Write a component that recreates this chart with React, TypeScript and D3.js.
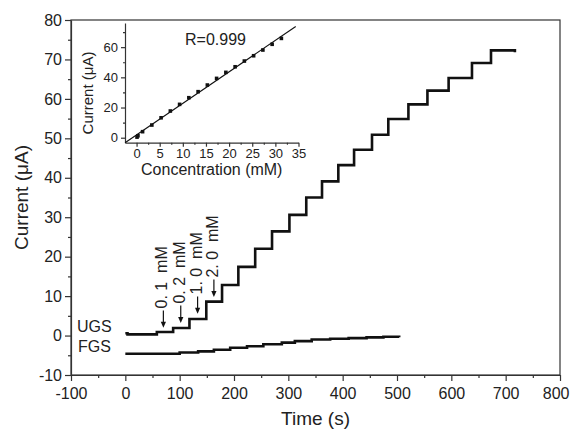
import * as d3 from "d3";
import React, { useRef, useEffect } from "react";

const W = 571;
const H = 433;
const FONT = "'Liberation Sans', Arial, sans-serif";

// main axes
const xTicks = [-100, 0, 100, 200, 300, 400, 500, 600, 700, 800];
const yTicks = [-10, 0, 10, 20, 30, 40, 50, 60, 70, 80];

// UGS amperometric response (step start time in s, current in uA)
const ugsTimes = [0, 4, 58, 88, 118, 149, 178, 208, 239, 270, 302, 333, 362, 392, 421, 454, 484, 521, 556, 595, 638, 673, 717];
const ugsCurrents = [0.6, 0.3, 0.9, 1.9, 4.2, 8.6, 12.8, 17.4, 22.0, 26.4, 30.6, 35.0, 39.1, 43.2, 47.1, 50.9, 54.9, 58.6, 62.1, 65.3, 69.1, 72.3, 71.8];

// FGS response
const fgsTimes = [0, 100, 134, 163, 193, 224, 254, 288, 312, 343, 377, 411, 444, 475, 504];
const fgsCurrents = [-4.6, -4.3, -4.0, -3.6, -3.1, -2.7, -2.2, -1.8, -1.4, -1.0, -0.8, -0.65, -0.45, -0.3, -0.4];

// injection arrows
const arrowLabels = ["0. 1  mM", "0. 2  mM", "1. 0  mM", "2. 0  mM"];
const arrowTimes = [70, 102, 133, 163];
const arrowTips = [1.95, 3.2, 5.5, 9.8];

// inset calibration
const insetXTicks = [0, 5, 10, 15, 20, 25, 30, 35];
const insetYTicks = [0, 20, 40, 60];
const concentrations = [0.1, 0.3, 1.3, 3.3, 5.3, 7.3, 9.3, 11.3, 13.3, 15.3, 17.3, 19.3, 21.3, 23.3, 25.3, 27.3, 29.3, 31.3];
const responses = [0.4, 1.3, 4.0, 8.4, 13.2, 17.7, 22.1, 26.5, 30.5, 34.9, 39.3, 43.3, 47.0, 50.8, 54.3, 58.1, 61.9, 65.8];

const plain = (d) => String(d);

export default function App() {
  const ref = useRef<SVGSVGElement>(null);

  useEffect(() => {
    const svg = d3.select(ref.current);
    svg.selectAll("*").remove();

    const x = d3.scaleLinear().domain([-100, 800]).range([71, 560]);
    const y = d3.scaleLinear().domain([-10, 80]).range([375, 20]);

    const styleAxis = (g, size) => {
      g.selectAll("path,line").attr("stroke", "#333").attr("stroke-width", 1.2);
      g.selectAll("text").attr("fill", "#222").style("font-size", size + "px").style("font-family", FONT);
    };

    // frame
    svg
      .append("rect")
      .attr("x", x(-100))
      .attr("y", y(80))
      .attr("width", x(800) - x(-100))
      .attr("height", y(-10) - y(80))
      .attr("fill", "none")
      .attr("stroke", "#333")
      .attr("stroke-width", 1.2);

    const gx = svg
      .append("g")
      .attr("transform", `translate(0, ${y(-10)})`)
      .call(d3.axisBottom(x).tickValues(xTicks).tickFormat(plain).tickSize(6).tickSizeOuter(0).tickPadding(7));
    styleAxis(gx, 16);
    // keep the last label inside the picture
    gx.selectAll(".tick text")
      .filter((d) => d === 800)
      .attr("text-anchor", "end")
      .attr("x", 9);
    const gxm = svg
      .append("g")
      .attr("transform", `translate(0, ${y(-10)})`)
      .call(d3.axisBottom(x).tickValues(d3.range(-50, 800, 100)).tickSize(3).tickFormat(() => ""));
    gxm.select(".domain").remove();
    styleAxis(gxm, 16);

    const gy = svg
      .append("g")
      .attr("transform", `translate(${x(-100)}, 0)`)
      .call(d3.axisLeft(y).tickValues(yTicks).tickFormat(plain).tickSize(6).tickSizeOuter(0).tickPadding(3));
    styleAxis(gy, 16);
    const gym = svg
      .append("g")
      .attr("transform", `translate(${x(-100)}, 0)`)
      .call(d3.axisLeft(y).tickValues(d3.range(-5, 80, 10)).tickSize(3).tickFormat(() => ""));
    gym.select(".domain").remove();
    styleAxis(gym, 16);

    svg
      .append("text")
      .attr("x", (x(-100) + x(800)) / 2)
      .attr("y", 425)
      .attr("text-anchor", "middle")
      .style("font-size", "19px")
      .style("font-family", FONT)
      .attr("fill", "#222")
      .text("Time (s)");
    svg
      .append("text")
      .attr("transform", `translate(28, ${(y(-10) + y(80)) / 2}) rotate(-90)`)
      .attr("text-anchor", "middle")
      .style("font-size", "19px")
      .style("font-family", FONT)
      .attr("fill", "#222")
      .text("Current (μA)");

    // curves
    const stepLine = d3
      .line()
      .x((d) => x(d[0]))
      .y((d) => y(d[1]))
      .curve(d3.curveStepAfter);

    svg
      .append("path")
      .attr("d", stepLine(ugsTimes.map((t, i) => [t, ugsCurrents[i]])))
      .attr("fill", "none")
      .attr("stroke", "#111")
      .attr("stroke-width", 2.6);
    svg
      .append("path")
      .attr("d", stepLine(fgsTimes.map((t, i) => [t, fgsCurrents[i]])))
      .attr("fill", "none")
      .attr("stroke", "#111")
      .attr("stroke-width", 2.6);

    svg
      .append("text")
      .attr("x", 77)
      .attr("y", 332)
      .style("font-size", "16px")
      .style("font-family", FONT)
      .attr("fill", "#222")
      .text("UGS");
    svg
      .append("text")
      .attr("x", 78)
      .attr("y", 352)
      .style("font-size", "16px")
      .style("font-family", FONT)
      .attr("fill", "#222")
      .text("FGS");

    // arrows + labels
    const arrowLen = 4.4;
    arrowTimes.forEach((t, i) => {
      const ax = x(t);
      const tipY = y(arrowTips[i]);
      const tailY = y(arrowTips[i] + arrowLen);
      svg
        .append("line")
        .attr("x1", ax)
        .attr("x2", ax)
        .attr("y1", tailY)
        .attr("y2", tipY - 5)
        .attr("stroke", "#111")
        .attr("stroke-width", 1.2);
      svg
        .append("path")
        .attr("d", `M${ax - 2.6},${tipY - 6} L${ax + 2.6},${tipY - 6} L${ax},${tipY} Z`)
        .attr("fill", "#111");
      svg
        .append("text")
        .attr("transform", `translate(${ax + 4}, ${tailY - 2}) rotate(-90)`)
        .style("font-size", "16px")
        .style("font-family", FONT)
        .style("white-space", "pre")
        .attr("fill", "#222")
        .text(arrowLabels[i]);
    });

    // inset
    const ix = d3.scaleLinear().domain([-2.5, 35]).range([125, 298.5]);
    const iy = d3.scaleLinear().domain([-3.3, 76]).range([142.7, 23]);

    const gix = svg
      .append("g")
      .attr("transform", `translate(0, ${iy(-3.3)})`)
      .call(d3.axisBottom(ix).tickValues(insetXTicks).tickFormat(plain).tickSize(4).tickSizeOuter(0).tickPadding(2));
    styleAxis(gix, 13);
    const gixm = svg
      .append("g")
      .attr("transform", `translate(0, ${iy(-3.3)})`)
      .call(d3.axisBottom(ix).tickValues(d3.range(2.5, 35, 5)).tickSize(2).tickFormat(() => ""));
    gixm.select(".domain").remove();
    styleAxis(gixm, 13);

    const giy = svg
      .append("g")
      .attr("transform", `translate(${ix(-2.5)}, 0)`)
      .call(d3.axisLeft(iy).tickValues(insetYTicks).tickFormat(plain).tickSize(4).tickSizeOuter(0).tickPadding(3));
    styleAxis(giy, 13);
    const giym = svg
      .append("g")
      .attr("transform", `translate(${ix(-2.5)}, 0)`)
      .call(d3.axisLeft(iy).tickValues([10, 30, 50, 70]).tickSize(2).tickFormat(() => ""));
    giym.select(".domain").remove();
    styleAxis(giym, 13);

    // least-squares fit of the calibration points
    const mx = d3.mean(concentrations);
    const my = d3.mean(responses);
    const slope =
      d3.sum(concentrations.map((c, i) => (c - mx) * (responses[i] - my))) /
      d3.sum(concentrations.map((c) => (c - mx) * (c - mx)));
    const icpt = my - slope * mx;
    const fx0 = Math.max(-2.5, (-3.3 - icpt) / slope);
    const fx1 = 34.4;
    svg
      .append("line")
      .attr("x1", ix(fx0))
      .attr("y1", iy(icpt + slope * fx0))
      .attr("x2", ix(fx1))
      .attr("y2", iy(icpt + slope * fx1))
      .attr("stroke", "#111")
      .attr("stroke-width", 1.1);

    svg
      .selectAll(".pt")
      .data(concentrations)
      .enter()
      .append("rect")
      .attr("x", (c) => ix(c) - 1.8)
      .attr("y", (c, i) => iy(responses[i]) - 1.8)
      .attr("width", 3.6)
      .attr("height", 3.6)
      .attr("fill", "#111");

    svg
      .append("text")
      .attr("x", 185)
      .attr("y", 45)
      .style("font-size", "16px")
      .style("font-family", FONT)
      .attr("fill", "#222")
      .text("R=0.999");
    svg
      .append("text")
      .attr("x", (ix(-2.5) + ix(35)) / 2)
      .attr("y", 175)
      .attr("text-anchor", "middle")
      .style("font-size", "16px")
      .style("font-family", FONT)
      .attr("fill", "#222")
      .text("Concentration (mM)");
    svg
      .append("text")
      .attr("transform", `translate(93, 93) rotate(-90)`)
      .attr("text-anchor", "middle")
      .style("font-size", "15px")
      .style("font-family", FONT)
      .attr("fill", "#222")
      .text("Current (μA)");
  }, []);

  return (
    <svg
      ref={ref}
      width={W}
      height={H}
      style={{ position: "absolute", left: 0, top: 0, background: "#fff" }}
    ></svg>
  );
}
